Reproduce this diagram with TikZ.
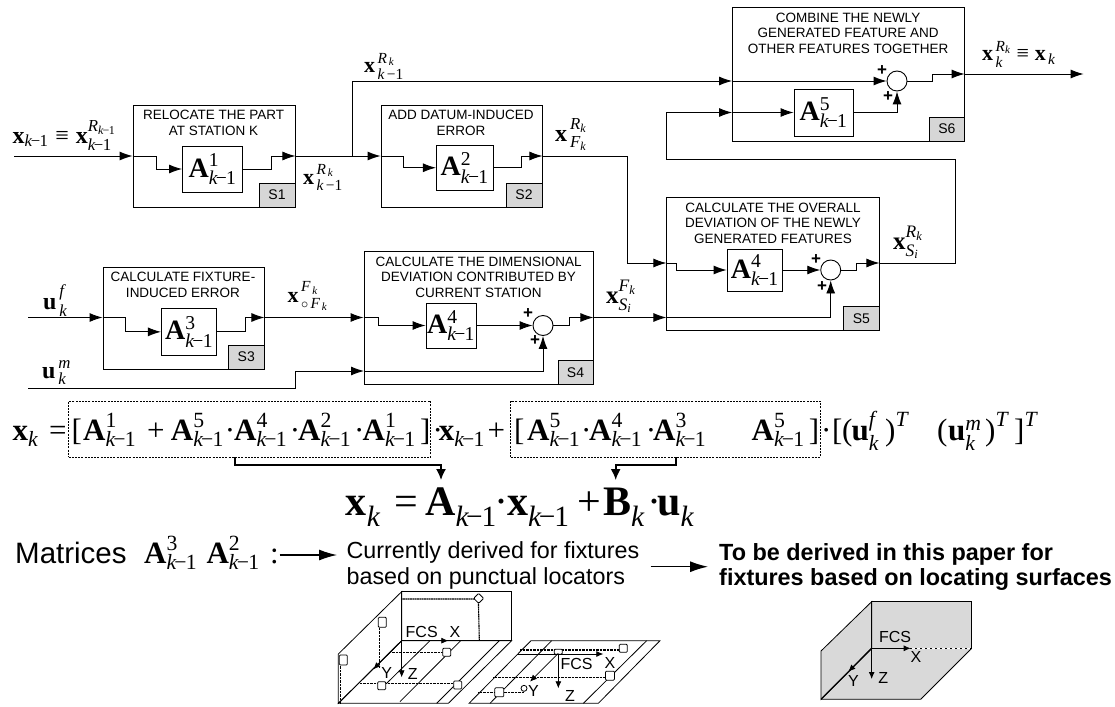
\documentclass[tikz,border=0pt]{standalone}
\usepackage{amsmath}
\usepackage{fontspec}
\setmainfont{Liberation Serif}
\setsansfont{Liberation Sans}
\usetikzlibrary{arrows.meta}
\newcommand\fsz[1]{\fontsize{#1}{#1}\selectfont}
\newcommand\kmo{\text{\itshape k\kern-.08em\upshape−\kern-.04em 1}}
\newcommand\itx[1]{\text{\itshape #1}}
\newcommand\bfx[1]{\text{\bfseries #1}}
\newcommand\Am[1]{$\bfx{A}^{\text{#1}}_{\kmo}$}
\newcommand\rectn[6][]{%
  \pgfmathsetmacro\rcx{(#3+#5)/2}\pgfmathsetmacro\rcy{(#4+#6)/2}%
  \pgfmathsetmacro\rw{#5-#3}\pgfmathsetmacro\rh{#6-#4}%
  \node[rectangle,inner sep=0pt,minimum width=\rw pt,minimum height=\rh pt,#1] (#2) at (\rcx,\rcy)}
\tikzset{
  blk/.style={draw,line width=0.9pt},
  amat/.style={draw,line width=0.9pt,font=\fsz{28}},
  tagbox/.style={draw,line width=0.9pt,fill=black!16,font=\sffamily\fsz{14}},
  ttl/.style={font=\sffamily\fsz{13.5},align=center,inner sep=0pt},
  wire/.style={line width=0.9pt},
  arr/.style={line width=0.9pt,-{Latex[length=13pt,width=9pt]}},
  bigarr/.style={line width=1.2pt,-{Latex[length=18pt,width=11pt]}},
  sumn/.style={draw,circle,minimum size=20pt,inner sep=0pt,line width=0.9pt},
  plusn/.style={font=\sffamily\bfseries\fsz{17},inner sep=0pt},
  lab/.style={font=\fsz{22},inner sep=0pt,anchor=base west},
  labu/.style={font=\fsz{24},inner sep=0pt,anchor=base west},
  labw/.style={font=\fsz{25},inner sep=0pt,anchor=base west},
  eq/.style={font=\fsz{31},inner sep=0pt,anchor=base west},
  eqb/.style={font=\fsz{42},inner sep=0pt,anchor=base west},
  dbox/.style={draw,dashed,dash pattern=on 2pt off 1.2pt,line width=0.6pt},
  fatw/.style={line width=1.6pt},
  fata/.style={line width=1.6pt,-{Latex[length=11pt,width=10pt]}},
  sans/.style={font=\sffamily\fsz{23.3},inner sep=0pt,anchor=base west},
  sansb/.style={font=\sffamily\bfseries\fsz{23.4},inner sep=0pt,anchor=base west},
  solid3/.style={line width=0.8pt},
  dots3/.style={line width=1.1pt,dash pattern=on 1pt off 0.4pt},
  axis3/.style={line width=0.8pt,-{Latex[length=7pt,width=6pt]}},
  loc3/.style={draw,line width=0.8pt,rounded corners=1pt,fill=white},
  txt3/.style={font=\sffamily\fsz{16},inner sep=0pt},
}
\begin{document}
\begin{tikzpicture}[x=1pt,y=-1pt]
\useasboundingbox (0,0) rectangle (1115,706);
% blocks
\rectn[blk]{S1}{133}{105}{295}{207} {};
\rectn[blk]{S2}{381}{105}{542}{207} {};
\rectn[blk]{S3}{103}{267}{264}{369} {};
\rectn[blk]{S4}{364}{251}{593}{384} {};
\rectn[blk]{S5}{666.4}{197}{879}{330} {};
\rectn[blk]{S6}{732.5}{7.5}{964.6}{141} {};
\rectn[tagbox]{T1}{259}{183}{295}{207} {S1};
\rectn[tagbox]{T2}{506}{183}{542}{207} {S2};
\rectn[tagbox]{T3}{228.6}{345}{264}{369} {S3};
\rectn[tagbox]{T4}{558}{360.7}{593}{384} {S4};
\rectn[tagbox]{T5}{843.6}{306.7}{879}{330} {S5};
\rectn[tagbox]{T6}{929}{117}{964.6}{141} {S6};
\node[ttl] (t1) at (213.6,123) {RELOCATE THE PART\\[2pt]AT STATION K};
\node[ttl] (t2) at (461,123) {ADD DATUM-INDUCED\\[2pt]ERROR};
\node[ttl] (t3) at (183,285) {CALCULATE FIXTURE-\\[2pt]INDUCED ERROR};
\node[ttl] (t4) at (478.6,277) {CALCULATE THE DIMENSIONAL\\[2pt]DEVIATION CONTRIBUTED BY\\[2pt]CURRENT STATION};
\node[ttl] (t5) at (773,223) {CALCULATE THE OVERALL\\[2pt]DEVIATION OF THE NEWLY\\[2pt]GENERATED FEATURES};
\node[ttl] (t6) at (848,33) {COMBINE THE NEWLY\\[2pt]GENERATED FEATURE AND\\[2pt]OTHER FEATURES TOGETHER};
\rectn[amat]{A1}{182.5}{146}{242.5}{192} {\Am{1}};
\rectn[amat]{A2}{436.4}{145.5}{493}{190} {\Am{2}};
\rectn[amat]{A3}{161.4}{308}{216.8}{355.7} {\Am{3}};
\rectn[amat]{A4}{426}{303}{476}{348} {\Am{4}};
\rectn[amat]{A5}{727}{249}{782.5}{291} {\Am{4}};
\rectn[amat]{A6}{794}{89}{853}{136} {\Am{5}};
\node[sumn] (sum4) at (543,325.5) {};
\node[sumn] (sum5) at (830.7,270) {};
\node[sumn] (sum6) at (897,81) {};
\node[plusn] (p4a) at (528,314) {+};
\node[plusn] (p4b) at (535,341) {+};
\node[plusn] (p5a) at (816,260) {+};
\node[plusn] (p5b) at (822,287) {+};
\node[plusn] (p6a) at (882,71) {+};
\node[plusn] (p6b) at (888,97) {+};
% ports
\coordinate (in1) at (14,156);
\coordinate (br) at (352,156);
\coordinate (in5) at (666.4,263);
\coordinate (in3) at (28,317.5);
\coordinate (low5) at (666.4,317.5);
\coordinate (um) at (28,388);
\coordinate (um4) at (364,371);
\coordinate (out6) at (964.6,74);
\coordinate (end6) at (1083.6,74);
% S1, S2 line
\draw[arr] (in1) -- (in1 -| S1.west);
\draw[arr] (in1 -| S1.west) -- ++(24,0) |- (A1.west);
\draw[arr] (A1.east) -- ++(28.5,0) |- (in1 -| S1.east);
\draw[arr] (in1 -| S1.east) -- (in1 -| S2.west);
\draw[arr] (in1 -| S2.west) -- ++(23,0) |- (A2.west);
\draw[arr] (A2.east) -- ++(28,0) |- (in1 -| S2.east);
\draw[arr] (in1 -| S2.east) -- (627.5,156) |- (in5);
\draw[arr] (br) |- (sum6 -| S6.west);
\draw[arr] (sum6 -| S6.west) -- (sum6.west);
% S5
\draw[arr] (in5) -- ++(10,0) |- (A5.west);
\draw[arr] (A5.east) -- (sum5.west);
\draw[arr] (sum5.east) -- ++(15,0) |- (in5 -| S5.east);
\draw[wire] (in5 -| S5.east) -- (955,263) -- (955,159) -- (666,159) -- (666,112.5);
\draw[arr] (666,112.5) -- (A6.west -| S6.west);
\draw[arr] (A6.west -| S6.west) -- (A6.west);
\draw[arr] (A6.east) -| (sum6.south);
\draw[arr] (sum6.east) -- ++(25,0) |- (out6);
\draw[arr] (out6) -- (end6);
% S3, S4
\draw[arr] (in3) -- (in3 -| S3.west);
\draw[arr] (in3 -| S3.west) -- ++(23,0) |- (A3.west);
\draw[arr] (A3.east) -- ++(28,0) |- (in3 -| S3.east);
\draw[arr] (in3 -| S3.east) -- (in3 -| S4.west);
\draw[arr] (in3 -| S4.west) -- ++(14.6,0) |- (A4.west);
\draw[arr] (A4.east) -- (sum4.west);
\draw[arr] (sum4.east) -- ++(15.6,0) |- (in3 -| S4.east);
\draw[arr] (in3 -| S4.east) -- (low5);
\draw[arr] (low5) -| (sum5.south);
\draw[arr] (um) -- (295,388) |- (um4);
\draw[arr] (um4) -| (sum4.south);
% signal labels
\node[lab] (l1) at (12.5,143) {\fsz{24}$\bfx{x}_{\kmo}\;\text{≡}\;\bfx{x}^{\itx{R}_{\kmo}}_{\kmo}$};
\node[lab] (l2) at (364,73) {$\bfx{x}^{\,\itx{R}_{\,\itx{k}}}_{\,\itx{k}\,\text{−1}}$};
\node[lab] (l3) at (303,184) {$\bfx{x}^{\,\itx{R}_{\,\itx{k}}}_{\,\itx{k}\,\text{−1}}$};
\node[labu] (l4) at (555,141) {$\bfx{x}^{\,\itx{R}_{\itx{k}}}_{\,\itx{F}_{\itx{k}}}$};
\node[lab] (l5) at (982,61) {$\bfx{x}^{\,\itx{R}_{\itx{k}}}_{\,\itx{k}}\;\text{≡}\;\bfx{x}_{\,\itx{k}}$};
\node[labu] (l6) at (43,309) {$\bfx{u}^{\,\itx{f}}_{\,\itx{k}}$};
\node[labu] (l7) at (42,378) {$\bfx{u}^{\,\itx{m}}_{\,\itx{k}}$};
\node[lab] (l8) at (287.5,302) {$\bfx{x}^{\,\itx{F}_{\,\itx{k}}\rule[-3pt]{0pt}{3pt}}_{\,\circ\,\itx{F}_{\,\itx{k}}}$};
\node[labw] (l9) at (606,303) {$\bfx{x}^{\itx{F}_{\itx{k}}\rule[-3pt]{0pt}{3pt}}_{\itx{S}_{\itx{i}}}$};
\node[labw] (l10) at (893,249) {$\bfx{x}^{\itx{R}_{\itx{k}}\rule[-3pt]{0pt}{3pt}}_{\itx{S}_{\itx{i}}}$};
% dashed boxes
\rectn[dbox]{D1}{68.6}{401}{430.7}{457} {};
\rectn[dbox]{D2}{510.7}{401}{820.4}{457} {};
% equation 1
\node[eq] (e1) at (12.5,440) {$\bfx{x}_{\itx{k}}$};
\node[eq] (e2) at (49,440) {=};
\node[eq] (e3) at (71.4,440) {[};
\node[eq] (e4) at (83,440) {\Am{1}};
\node[eq] (e5) at (147,440) {+};
\node[eq] (e6) at (170.7,440) {\Am{5}};
\node[eq] (e7) at (224.6,440) {·};
\node[eq] (e8) at (234,440) {\Am{4}};
\node[eq] (e9) at (289.6,440) {·};
\node[eq] (e10) at (298,440) {\Am{2}};
\node[eq] (e11) at (354,440) {·};
\node[eq] (e12) at (362.5,440) {\Am{1}};
\node[eq] (e13) at (420,440) {]};
\node[eq] (e14) at (432.4,440) {·};
\node[eq] (e15) at (438.6,440) {$\bfx{x}_{\kmo}$};
\node[eq] (e16) at (487.5,440) {+};
\node[eq] (e17) at (514,440) {[};
\node[eq] (e18) at (527,440) {\Am{5}};
\node[eq] (e19) at (581,440) {·};
\node[eq] (e20) at (589,440) {\Am{4}};
\node[eq] (e21) at (645.6,440) {·};
\node[eq] (e22) at (653,440) {\Am{3}};
\node[eq] (e23) at (751.4,440) {\Am{5}};
\node[eq] (e24) at (808.6,440) {]};
\node[eq] (e25) at (821,440) {·};
\node[eq] (e26) at (832,440) {[};
\node[eq] (e27) at (842,440) {(};
\node[eq] (e28) at (851.4,440) {$\bfx{u}^{\itx{f}}_{\itx{k}}$};
\node[eq] (e29) at (885,440) {$\text{)}^{\itx{T}}$};
\node[eq] (e30) at (937,440) {(};
\node[eq] (e31) at (948,440) {$\bfx{u}^{\itx{m}}_{\itx{k}}$};
\node[eq] (e32) at (985,440) {$\text{)}^{\itx{T}}$};
\node[eq] (e33) at (1014,440) {$\text{]}^{\itx{T}}$};
% connectors to equation 2
\node[eqb] (f3) at (425,515) {$\bfx{A}_{\kmo}$};
\node[eqb] (f6) at (603,515) {$\bfx{B}_{\itx{k}}$};
\coordinate (d1out) at (235,457);
\coordinate (d2out) at (675.7,457);
\coordinate (f3in) at (441,480);
\coordinate (f6in) at (615.7,480);
\draw[fatw] (d1out) |- (441,465);
\draw[fata] (441,464.2) -- (f3in);
\draw[fatw] (d2out) |- (615.7,465);
\draw[fata] (615.7,464.2) -- (f6in);
% equation 2
\node[eqb] (f1) at (345.7,515) {$\bfx{x}_{\itx{k}}$};
\node[eqb] (f2) at (394.6,515) {=};
\node[eqb] (f4) at (494.7,515) {·};
\node[eqb] (f5a) at (507,515) {$\bfx{x}_{\kmo}$};
\node[eqb] (f5) at (577,515) {+};
\node[eqb] (f7) at (647,515) {·};
\node[eqb] (f8) at (657,515) {$\bfx{u}_{\itx{k}}$};
% matrices line
\node[anchor=base west,inner sep=0pt,font=\sffamily\fsz{29.5}] (m1) at (15,563) {Matrices};
\node[eq] (m2) at (144,563) {\Am{3}};
\node[eq] (m3) at (206.4,563) {\Am{2}};
\node[eq] (m4) at (270,563) {:};
\node[sans] (c1) at (346.4,558) {Currently derived for fixtures};
\node[sans] (c2) at (346.4,584) {based on punctual locators};
\node[sansb] (b1) at (719,560) {To be derived in this paper for};
\node[sansb] (b2) at (719,585) {fixtures based on locating surfaces};
\coordinate (m5) at (279.6,555);
\coordinate (c0) at (337,555);
\draw[bigarr] (m5) -- (c0);
\coordinate (c3) at (650.7,566.7);
\coordinate (b3) at (708,566.7);
\draw[bigarr] (c3) -- (b3);
% left 3-D sketch
\begin{scope}[shift={(320,570)},x=0.33333pt,y=-0.33333pt]
\draw[solid3] (245,65) rectangle (575,212);
\draw[solid3] (245,65) -- (245,212) -- (55,400) -- (55,252) -- cycle;
\draw[solid3] (245,212) -- (575,212) -- (385,400) -- (55,400) -- cycle;
\draw[solid3] (538,212) -- (350,400);
\draw[solid3] (422,212) -- (240,395);
\draw[solid3] (330,212) -- (200,340);
\draw[dots3] (245,87) -- (475,87) -- (478,212);
\draw[dots3] (178,165) -- (178,295);
\draw[dots3] (62,270) -- (62,400) -- (55,400);
\draw[dots3] (115,340) -- (413,340);
\draw[dots3] (215,247) -- (380,247);
\node[loc3,minimum size=7pt,inner sep=0pt,rotate=45] (k1) at (476,85) {};
\node[loc3,minimum width=8pt,minimum height=10pt,inner sep=0pt] (k2) at (187,157) {};
\node[loc3,minimum width=8pt,minimum height=10pt,inner sep=0pt] (k3) at (70,270) {};
\node[loc3,minimum size=8pt,inner sep=0pt] (k4) at (380,247) {};
\node[loc3,minimum size=8pt,inner sep=0pt] (k5) at (185,347) {};
\node[loc3,minimum size=8pt,inner sep=0pt] (k6) at (413,345) {};
\draw[axis3] (245,212) -- (385,212);
\draw[axis3] (245,212) -- (245,322);
\draw[axis3] (245,212) -- (160,298);
\node[txt3] (k7) at (305,185) {FCS};
\node[txt3] (k8) at (405,187) {X};
\node[txt3] (k9) at (200,310) {Y};
\node[txt3] (k10) at (278,313) {Z};
% right plate
\draw[solid3] (633,212) -- (1020,212) -- (835,400) -- (447,400) -- cycle;
\draw[solid3] (695,212) -- (510,400);
\draw[solid3] (980,212) -- (790,400);
\draw[dots3] (600,240) -- (910,240);
\draw[dots3] (520,322) -- (870,322);
\draw[dots3] (475,367) -- (612,367);
\node[loc3,minimum size=8pt,inner sep=0pt] (q1) at (910,235) {};
\node[loc3,minimum width=8pt,minimum height=5pt,inner sep=0pt] (q2) at (715,245) {};
\node[loc3,minimum size=9pt,inner sep=0pt] (q3) at (870,317) {};
\node[loc3,minimum size=9pt,inner sep=0pt] (q4) at (538,367) {};
\node[loc3,minimum size=6pt,inner sep=0pt,circle] (q5) at (612,355) {};
\draw[axis3] (590,252) -- (850,252);
\draw[axis3] (715,250) -- (630,335);
\draw[axis3] (715,255) -- (715,355);
\node[txt3] (q6) at (770,282) {FCS};
\node[txt3] (q7) at (870,280) {X};
\node[txt3] (q8) at (640,362) {Y};
\node[txt3] (q9) at (750,378) {Z};
\end{scope}
% right 3-D sketch
\begin{scope}[shift={(790,590)},x=0.33333pt,y=-0.33333pt]
\fill[black!15] (245,35) -- (545,35) -- (545,175) -- (392,328) -- (93,328) -- (93,183) -- cycle;
\draw[solid3] (245,35) rectangle (545,175);
\draw[solid3] (245,35) -- (245,175) -- (93,328) -- (93,183) -- cycle;
\draw[solid3] (545,175) -- (392,328) -- (93,328);
\draw[line width=1.2pt] (245,175) -- (93,328);
\draw[line width=0.6pt,densely dashed,white] (245,175) -- (545,175);
\draw[axis3] (245,175) -- (362,175);
\draw[axis3] (245,175) -- (175,245);
\draw[axis3] (245,175) -- (245,267);
\node[txt3] (g1) at (315,142) {FCS};
\node[txt3] (g2) at (378,202) {X};
\node[txt3] (g3) at (190,272) {Y};
\node[txt3] (g4) at (280,265) {Z};
\end{scope}
\end{tikzpicture}
\end{document}
